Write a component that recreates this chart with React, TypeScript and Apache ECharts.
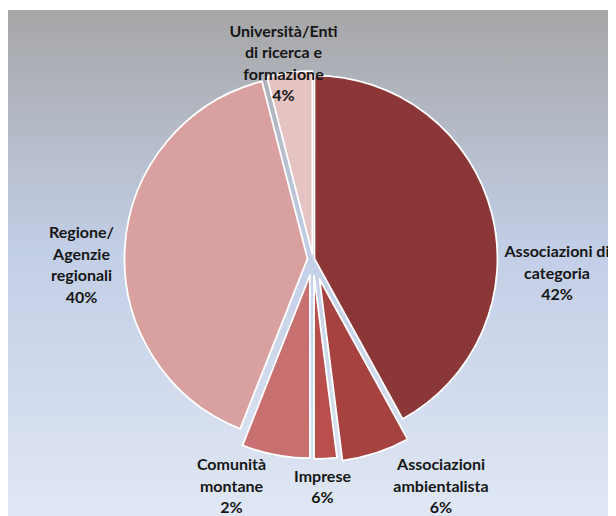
import React, { useEffect, useRef } from "react";
import * as echarts from "echarts";

const categories = [
  "Associazioni di\ncategoria",
  "Associazioni\nambientalista",
  "Comunità\nmontane",
  "Imprese",
  "Regione/\nAgenzie\nregionali",
  "Università/Enti\ndi ricerca e\nformazione",
];
const values = [42, 6, 2, 6, 40, 4];
const colors = ["#8C3737", "#A64341", "#B94F4D", "#C8706F", "#D8A09F", "#E5C3C3"];
// explosion distance of each slice (px)
const explode = [1.5, 21, 17, 16.5, 5.5, 5];
// label centres (px, chart coordinates)
const labelPos = [
  [549, 262],
  [433, 475],
  [223.5, 475],
  [314.5, 476],
  [73.5, 254],
  [275.5, 52.5],
];

const CENTER = [305, 249];
const RADIUS = 183;

export default function App() {
  const ref = useRef<HTMLDivElement>(null);
  useEffect(() => {
    if (!ref.current) return;
    const chart = echarts.init(ref.current, undefined, { renderer: "svg" });
    const total = values.reduce((a, b) => a + b, 0);
    let cum = 0;
    const series = values.map((v, i) => {
      const mid = ((cum + v / 2) / total) * 2 * Math.PI;
      cum += v;
      const cx = CENTER[0] + Math.sin(mid) * explode[i];
      const cy = CENTER[1] - Math.cos(mid) * explode[i];
      return {
        type: "pie",
        center: [cx, cy],
        radius: RADIUS,
        startAngle: 90,
        clockwise: true,
        silent: true,
        avoidLabelOverlap: false,
        z: 2,
        labelLine: { show: false },
        labelLayout: () => ({
          x: labelPos[i][0],
          y: labelPos[i][1],
          align: "center",
          verticalAlign: "middle",
          hideOverlap: false,
        }),
        data: values.map((val, j) => ({
          name: categories[j],
          value: val,
          itemStyle:
            j === i
              ? { color: colors[j], borderColor: "#FFFFFF", borderWidth: 1.8 }
              : { color: "rgba(0,0,0,0)", borderWidth: 0 },
          label: {
            show: j === i,
            position: "outside",
            formatter: "{b}\n{d}%",
            fontFamily: "Lato",
            fontWeight: "bold",
            fontSize: 16,
            lineHeight: 21.5,
            color: "#161616",
            align: "center",
          },
        })),
      };
    });
    chart.setOption({
      animation: false,
      backgroundColor: {
        type: "linear",
        x: 0,
        y: 0,
        x2: 0,
        y2: 1,
        colorStops: [
          { offset: 0, color: "#A6A6A7" },
          { offset: 0.47, color: "#C2CEE6" },
          { offset: 1, color: "#E0E7F4" },
        ],
      },
      series,
    });
    return () => chart.dispose();
  }, []);
  return (
    <div style={{ paddingTop: 2 }}>
      <div ref={ref} style={{ width: 608, height: 506 }} />
    </div>
  );
}
